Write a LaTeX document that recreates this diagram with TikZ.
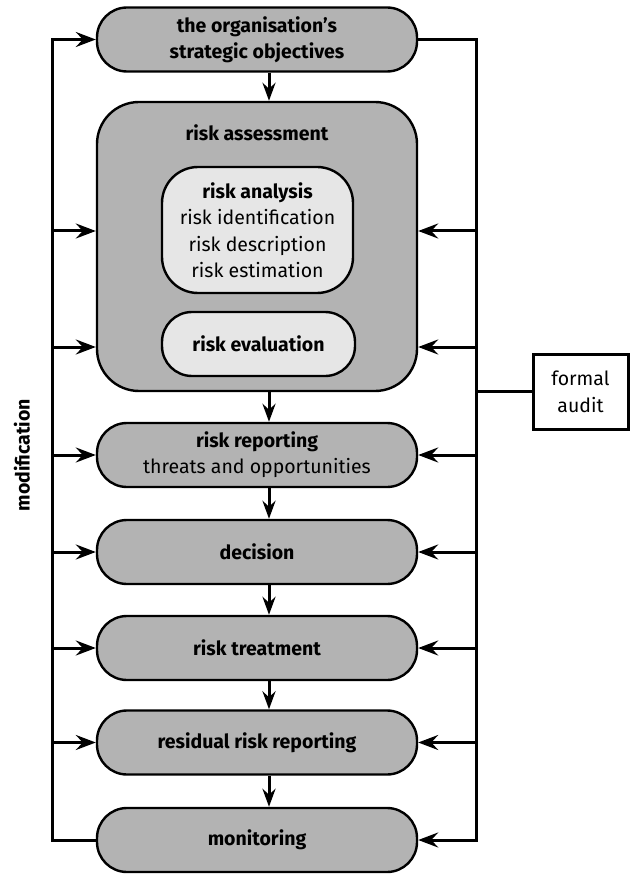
\documentclass[tikz,border=0pt]{standalone}
\usepackage{fontspec}
\setmainfont{Fira Sans}
\usetikzlibrary{arrows.meta,calc}
\definecolor{boxgray}{HTML}{B3B3B3}
\definecolor{innergray}{HTML}{E6E6E6}
\tikzset{
  stage/.style={draw=black, line width=2.4pt, fill=boxgray, rounded corners=30pt,
    minimum width=320pt, minimum height=64pt, inner sep=0pt, align=center,
    font=\fontsize{19.5}{26}\selectfont},
  innerbox/.style={draw=black, line width=2.4pt, fill=innergray, align=center,
    inner sep=0pt, font=\fontsize{19.5}{26.5}\selectfont},
  auditbox/.style={draw=black, line width=3pt, fill=white, minimum width=95pt,
    minimum height=75pt, inner sep=0pt, align=center, font=\fontsize{19.5}{27}\selectfont},
  conn/.style={line width=3pt, draw=black},
  arr/.style={conn, -{Stealth[length=20pt, width=15pt, inset=7pt]}},
  darr/.style={conn, -{Stealth[length=18pt, width=13pt, inset=6pt]}},
  plain/.style={inner sep=0pt, align=center}
}
\begin{document}
\begin{tikzpicture}[x=1pt,y=-1pt]
\useasboundingbox (0,0) rectangle (629,874);
% main column
\node[stage] (obj) at (257,39.5) {\bfseries the organisation’s\\\bfseries strategic objectives};
\node[stage, rounded corners=42pt, minimum height=289pt] (ra) at (257,246.5) {};
\node[plain, font=\fontsize{19.5}{26}\selectfont\bfseries] (ratitle) at (257,133) {risk assessment};
\node[innerbox, rounded corners=36pt, minimum width=191pt, minimum height=126pt] (ana) at (257.5,230)
  {\bfseries risk analysis\\risk identification\\risk description\\risk estimation};
\node[innerbox, rounded corners=30pt, minimum width=193pt, minimum height=64pt] (eval) at (258.5,344)
  {\bfseries risk evaluation};
\node[stage] (rep) at (257,455) {\bfseries risk reporting\\threats and opportunities};
\node[stage] (dec) at (257,552) {\bfseries decision};
\node[stage] (treat) at (257,648) {\bfseries risk treatment};
\node[stage] (resid) at (257,742.5) {\bfseries residual risk reporting};
\node[stage] (mon) at (257,840) {\bfseries monitoring};
\node[auditbox] (audit) at (580.5,391.5) {formal\\audit};
\node[plain, rotate=90, font=\fontsize{19.5}{26}\selectfont\bfseries] (modif) at (22,455) {modification};
% guide coordinates
\coordinate (ax) at (269,0);
\coordinate (L) at (52,0);
\coordinate (R) at (476,0);
\coordinate (ya) at (0,231);
\coordinate (yb) at (0,347);
% down arrows
\draw[darr] (obj.south -| ax) -- (ra.north -| ax);
\draw[darr] (ra.south -| ax) -- (rep.north -| ax);
\draw[darr] (rep.south -| ax) -- (dec.north -| ax);
\draw[darr] (dec.south -| ax) -- (treat.north -| ax);
\draw[darr] (treat.south -| ax) -- (resid.north -| ax);
\draw[darr] (resid.south -| ax) -- (mon.north -| ax);
% left loop (modification)
\draw[arr] (mon.west) -- (mon.west -| L) -- (obj.west -| L) -- (obj.west);
\draw[arr] (L |- ya) -- (ra.west |- ya);
\draw[arr] (L |- yb) -- (ra.west |- yb);
\draw[arr] (L |- rep.west) -- (rep.west);
\draw[arr] (L |- dec.west) -- (dec.west);
\draw[arr] (L |- treat.west) -- (treat.west);
\draw[arr] (L |- resid.west) -- (resid.west);
% right loop (formal audit)
\draw[arr] (obj.east) -- (obj.east -| R) -- (mon.east -| R) -- (mon.east);
\draw[arr] (R |- ya) -- (ra.east |- ya);
\draw[arr] (R |- yb) -- (ra.east |- yb);
\draw[arr] (R |- rep.east) -- (rep.east);
\draw[arr] (R |- dec.east) -- (dec.east);
\draw[arr] (R |- treat.east) -- (treat.east);
\draw[arr] (R |- resid.east) -- (resid.east);
\draw[conn] (R |- audit.west) -- (audit.west);
\end{tikzpicture}
\end{document}
